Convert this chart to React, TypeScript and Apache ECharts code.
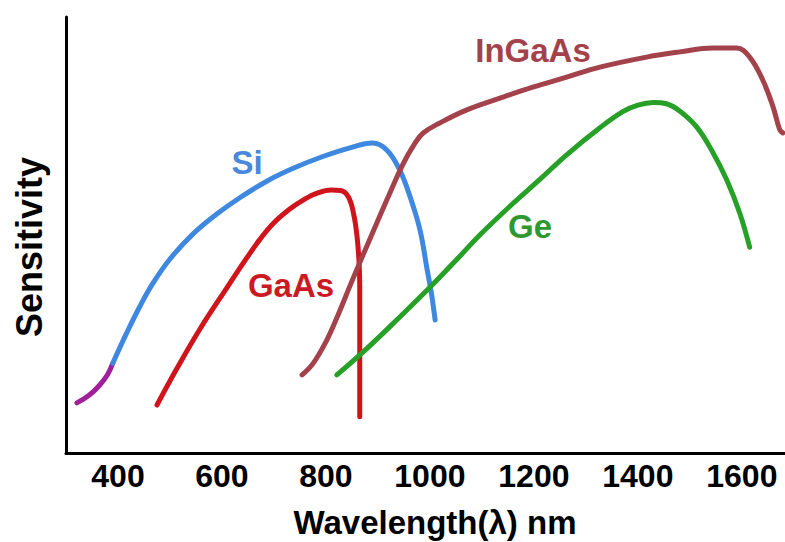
import React, { useEffect, useRef } from "react";
import * as echarts from "echarts";

const xTicks = [400, 600, 800, 1000, 1200, 1400, 1600];

const siUV = [
  [321, 11.5], [345, 13.3], [365, 15.6], [380, 18.0], [390, 20.6],
];
const si = [
  [390, 20.6], [417, 27.6], [442, 33.6], [467, 38.9], [500, 44.5], [544, 50.2],
  [590, 54.8], [635, 58.6], [687, 62.4], [737, 65.3], [794, 68.0], [846, 70.0],
  [890, 71.1], [917, 69.5], [942, 64.9], [962, 58.7], [981, 51.1], [994, 42.5],
  [1003, 36.5], [1010, 30.5],
];
const gaas = [
  [475, 11.0], [513, 19.3], [558, 28.5], [610, 38.0], [648, 44.8], [673, 49.0],
  [700, 52.8], [731, 56.0], [760, 58.3], [783, 59.6], [810, 60.3], [828, 60.2],
  [843, 58.8], [853, 55.0], [860, 49.5], [864, 43.0], [865, 38.0], [865, 8.3],
];
const ingaas = [
  [754, 17.9], [775, 20.5], [800, 25.5], [821, 31.0], [852, 40.0], [885, 49.2], [917, 58.0],
  [948, 66.2], [971, 71.0], [987, 73.4], [1019, 75.7], [1071, 78.7], [1135, 81.4],
  [1198, 83.9], [1263, 86.2], [1327, 88.5], [1417, 90.8], [1481, 92.0], [1544, 92.9],
  [1590, 92.9], [1615, 90.8], [1640, 85.6], [1660, 79.4], [1673, 74.1], [1679, 73.4],
];
const ge = [
  [821, 17.9], [879, 24.0], [942, 31.2], [1000, 38.0], [1058, 45.2], [1096, 50.0],
  [1154, 56.6], [1212, 62.8], [1263, 68.4], [1327, 74.6], [1371, 78.3], [1400, 79.8],
  [1430, 80.4], [1455, 80.1], [1481, 78.4], [1513, 74.8], [1544, 69.0], [1571, 62.6],
  [1596, 55.0], [1615, 47.2],
];

const FONT = '"Liberation Sans", Arial, Helvetica, sans-serif';

const line = (name: string, data: number[][], color: string) => ({
  name,
  type: "line",
  data,
  smooth: 0.4,
  symbol: "none",
  lineStyle: { color, width: 5, cap: "round", join: "round" },
  z: 3,
});

export default function App() {
  const ref = useRef<HTMLDivElement>(null);
  useEffect(() => {
    if (!ref.current) return;
    const chart = echarts.init(ref.current, null, { renderer: "svg" });
    chart.setOption({
      animation: false,
      backgroundColor: "#ffffff",
      grid: { left: 66, right: 0, top: 17, bottom: 89 },
      xAxis: {
        type: "value",
        min: 300,
        max: 1683,
        axisLine: { show: true, onZero: false, lineStyle: { color: "#000", width: 3 } },
        axisTick: { show: false },
        splitLine: { show: false },
        axisLabel: {
          customValues: xTicks,
          formatter: (v: number) => String(v),
          color: "#000",
          fontSize: 32,
          fontWeight: "bold",
          fontFamily: FONT,
          margin: 7,
        },
      },
      yAxis: {
        type: "value",
        min: 0,
        max: 100,
        axisLine: { show: true, lineStyle: { color: "#000", width: 3 } },
        axisTick: { show: false },
        splitLine: { show: false },
        axisLabel: { show: false },
      },
      series: [
        line("Si (UV)", siUV, "#a0209a"),
        line("Si", si, "#3f88e0"),
        line("GaAs", gaas, "#d0141c"),
        line("InGaAs", ingaas, "#a3424a"),
        line("Ge", ge, "#27a027"),
      ],
      graphic: [
        { type: "text", x: 247, y: 162, style: { text: "Si", fill: "#4a88dc", fontSize: 33, fontWeight: "bold", fontFamily: FONT, align: "center", verticalAlign: "middle" } },
        { type: "text", x: 291, y: 285, style: { text: "GaAs", fill: "#cc1a24", fontSize: 33, fontWeight: "bold", fontFamily: FONT, align: "center", verticalAlign: "middle" } },
        { type: "text", x: 533, y: 50, style: { text: "InGaAs", fill: "#a3424a", fontSize: 33, fontWeight: "bold", fontFamily: FONT, align: "center", verticalAlign: "middle" } },
        { type: "text", x: 530, y: 226, style: { text: "Ge", fill: "#2e982e", fontSize: 33, fontWeight: "bold", fontFamily: FONT, align: "center", verticalAlign: "middle" } },
        { type: "text", x: 435, y: 522, style: { text: "Wavelength(λ) nm", fill: "#000", fontSize: 33, fontWeight: "bold", fontFamily: FONT, align: "center", verticalAlign: "middle" } },
        { type: "text", x: 29, y: 247, rotation: Math.PI / 2, style: { text: "Sensitivity", fill: "#000", fontSize: 36, fontWeight: "bold", fontFamily: FONT, align: "center", verticalAlign: "middle" } },
      ],
    });
    return () => chart.dispose();
  }, []);
  return <div ref={ref} style={{ width: 785, height: 542, position: "absolute", left: 0, top: 0 }} />;
}
